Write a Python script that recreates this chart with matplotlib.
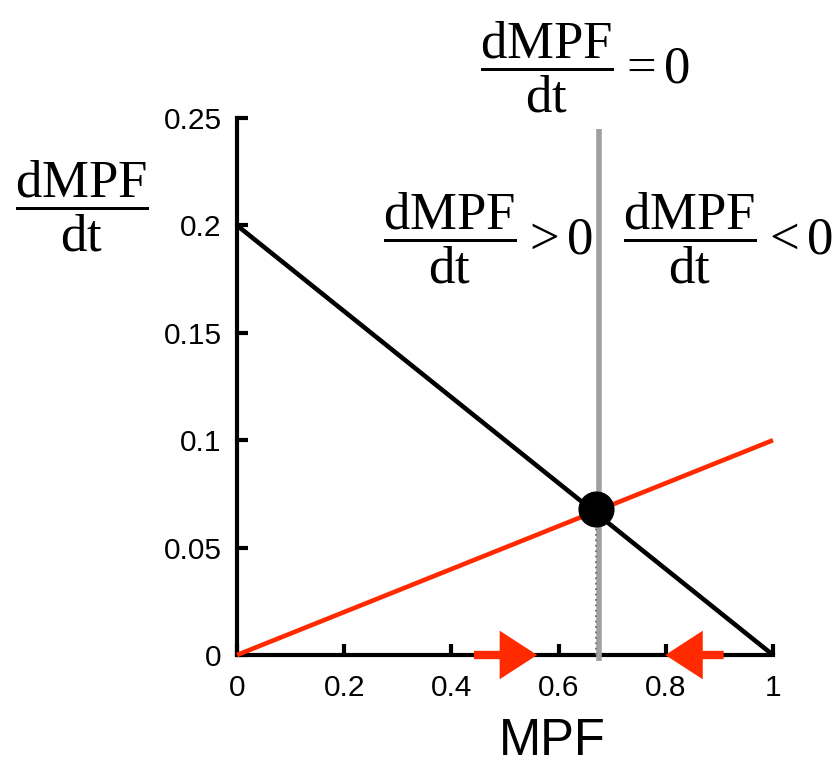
import matplotlib
matplotlib.use("Agg")
import matplotlib.pyplot as plt

plt.rcParams['font.family'] = ['Liberation Sans', 'DejaVu Sans']
plt.rcParams['mathtext.fontset'] = 'custom'
plt.rcParams['mathtext.rm'] = 'Liberation Serif'
plt.rcParams['mathtext.it'] = 'Liberation Serif:italic'
plt.rcParams['mathtext.bf'] = 'Liberation Serif:bold'

# Growth and decay rates of MPF as functions of MPF level
mpf_x = [0.0, 1.0]
activation = [0.2, 0.0]      # black line
degradation = [0.0, 0.1]     # red line

# Steady state where both rates balance
eq_x = [0.67]
eq_y = [0.068]
steady_line_x = 0.675
steady_line_top = 0.245

# Direction arrows along the MPF axis: (tail, tip)
arrow_right = (0.442, 0.560)
arrow_left = (0.908, 0.799)

xticks = [0, 0.2, 0.4, 0.6, 0.8, 1]
xtick_labels = ['0', '0.2', '0.4', '0.6', '0.8', '1']
yticks = [0, 0.05, 0.1, 0.15, 0.2, 0.25]
ytick_labels = ['0', '0.05', '0.1', '0.15', '0.2', '0.25']

W, H = 840, 765
fig = plt.figure(figsize=(W / 100, H / 100), dpi=100)
ax = fig.add_axes([237 / W, 1 - 655 / H, 536 / W, 537 / H])

red = '#ff2a00'
ax.set_xlim(0, 1)
ax.set_ylim(0, 0.25)

ax.plot(mpf_x, activation, color='black', lw=3.3, solid_capstyle='butt', clip_on=False, zorder=3)
ax.plot(mpf_x, degradation, color=red, lw=3.3, solid_capstyle='butt', clip_on=False, zorder=3)

# vertical steady-state marker
ax.plot([steady_line_x, steady_line_x], [-0.003, steady_line_top], color='#a0a0a0', lw=4.0,
        solid_capstyle='butt', clip_on=False, zorder=2)
ax.plot([eq_x[0], eq_x[0]], [0, eq_y[0]], color='#707070', lw=1.3, ls=(0, (1, 2)),
        clip_on=False, zorder=2.5)

ax.plot(eq_x, eq_y, 'o', color='black', markersize=25, clip_on=False, zorder=5)

for tail, tip in (arrow_right, arrow_left):
    ax.annotate('', xy=(tip, 0), xytext=(tail, 0),
                arrowprops=dict(arrowstyle='simple,head_length=27,head_width=35,tail_width=6',
                                mutation_scale=1, lw=0, facecolor=red, edgecolor='none',
                                shrinkA=0, shrinkB=0),
                annotation_clip=False, zorder=6)

for side in ('top', 'right'):
    ax.spines[side].set_visible(False)
for side in ('left', 'bottom'):
    ax.spines[side].set_linewidth(3)
    ax.spines[side].set_color('black')
    ax.spines[side].set_zorder(1)

ax.set_xticks(xticks)
ax.set_xticklabels(xtick_labels)
ax.set_yticks(yticks)
ax.set_yticklabels(ytick_labels)
ax.tick_params(axis='both', direction='in', length=8, width=3, labelsize=21.5, colors='black')
ax.tick_params(axis='x', pad=14)
ax.tick_params(axis='y', pad=11)

# axis title, placed by its baseline
fig.text(552 / W, 1 - 755 / H, 'MPF', fontsize=36.5, ha='center', va='baseline')

frac = r'\dfrac{\mathrm{dMPF}}{\mathrm{dt}}'
fs = 38
fig.text(15 / W, 1 - 206 / H, '$' + frac + '$', fontsize=fs, ha='left', va='center')
fig.text(480 / W, 1 - 67 / H, '$' + frac + r'{=}0$', fontsize=fs, ha='left', va='center')
fig.text(383 / W, 1 - 238 / H, '$' + frac + r'{>}0$', fontsize=fs, ha='left', va='center')
fig.text(623 / W, 1 - 238 / H, '$' + frac + r'{<}0$', fontsize=fs, ha='left', va='center')

fig.savefig('out.png', dpi=100, facecolor='white')
